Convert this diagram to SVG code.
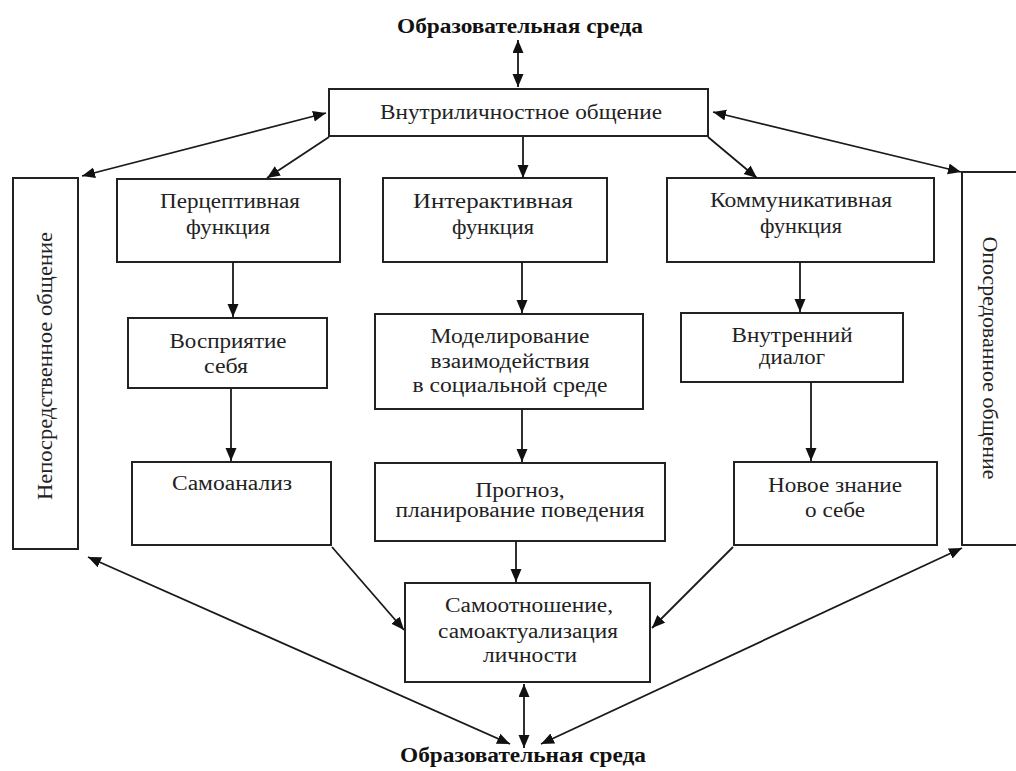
<svg xmlns="http://www.w3.org/2000/svg" width="1016" height="771" viewBox="0 0 1016 771">
<style>
.box{fill:#fff;stroke:#222;stroke-width:2}
.t{font-family:"Liberation Serif","Times New Roman",serif;font-size:20px;fill:#222;text-anchor:middle}
.b{font-weight:bold;fill:#111}
.c{stroke:#1a1a1a;stroke-width:1.8;fill:none;marker-end:url(#ah)}
.d{marker-start:url(#ah)}
</style>
<defs>
<marker id="ah" markerUnits="userSpaceOnUse" markerWidth="14" markerHeight="12" refX="13" refY="5.5" orient="auto-start-reverse" viewBox="0 0 14 12">
<path d="M0,0 L13,5.5 L0,11 z" fill="#111"/>
</marker>
</defs>
<rect width="1016" height="771" fill="#fff"/>

<g id="env-top"><text class="t b" x="520" y="33" textLength="246" lengthAdjust="spacingAndGlyphs">Образовательная среда</text></g>
<g id="env-bottom"><text class="t b" x="523" y="762" textLength="246" lengthAdjust="spacingAndGlyphs">Образовательная среда</text></g>

<g id="intra"><rect class="box" x="329" y="89" width="379" height="47"/><text class="t" x="521" y="119" textLength="282" lengthAdjust="spacingAndGlyphs">Внутриличностное общение</text></g>

<g id="direct"><rect class="box" x="13" y="178" width="65" height="371"/><text class="t" transform="translate(52,366) rotate(-90)" x="0" y="0" textLength="268" lengthAdjust="spacingAndGlyphs">Непосредственное общение</text></g>

<g id="mediated"><rect class="box" x="962" y="172" width="70" height="373"/><text class="t" transform="translate(983,358) rotate(90)" x="0" y="0" textLength="243" lengthAdjust="spacingAndGlyphs">Опосредованное общение</text></g>

<g id="perc"><rect class="box" x="117" y="179" width="223" height="83"/><text class="t" x="230" y="208" textLength="140" lengthAdjust="spacingAndGlyphs">Перцептивная</text><text class="t" x="228" y="234" textLength="84" lengthAdjust="spacingAndGlyphs">функция</text></g>

<g id="inter"><rect class="box" x="383" y="178" width="224" height="84"/><text class="t" x="493" y="208" textLength="160" lengthAdjust="spacingAndGlyphs">Интерактивная</text><text class="t" x="493" y="234" textLength="82" lengthAdjust="spacingAndGlyphs">функция</text></g>

<g id="comm"><rect class="box" x="667" y="178" width="267" height="84"/><text class="t" x="801" y="207" textLength="182" lengthAdjust="spacingAndGlyphs">Коммуникативная</text><text class="t" x="801" y="233" textLength="82" lengthAdjust="spacingAndGlyphs">функция</text></g>

<g id="selfperc"><rect class="box" x="128" y="318" width="199" height="70"/><text class="t" x="228" y="348" textLength="117" lengthAdjust="spacingAndGlyphs">Восприятие</text><text class="t" x="226" y="373" textLength="44" lengthAdjust="spacingAndGlyphs">себя</text></g>

<g id="model"><rect class="box" x="375" y="314" width="268" height="95"/><text class="t" x="510" y="343" textLength="159" lengthAdjust="spacingAndGlyphs">Моделирование</text><text class="t" x="510" y="368" textLength="159" lengthAdjust="spacingAndGlyphs">взаимодействия</text><text class="t" x="510" y="392" textLength="195" lengthAdjust="spacingAndGlyphs">в социальной среде</text></g>

<g id="dialog"><rect class="box" x="681" y="313" width="222" height="69"/><text class="t" x="792" y="342" textLength="121" lengthAdjust="spacingAndGlyphs">Внутренний</text><text class="t" x="792" y="364" textLength="66" lengthAdjust="spacingAndGlyphs">диалог</text></g>

<g id="selfanalysis"><rect class="box" x="132" y="462" width="199" height="83"/><text class="t" x="232" y="490" textLength="120" lengthAdjust="spacingAndGlyphs">Самоанализ</text></g>

<g id="forecast"><rect class="box" x="375" y="463" width="290" height="78"/><text class="t" x="520" y="497" textLength="89" lengthAdjust="spacingAndGlyphs">Прогноз,</text><text class="t" x="520" y="517" textLength="249" lengthAdjust="spacingAndGlyphs">планирование поведения</text></g>

<g id="newknow"><rect class="box" x="734" y="462" width="203" height="83"/><text class="t" x="835" y="492" textLength="134" lengthAdjust="spacingAndGlyphs">Новое знание</text><text class="t" x="835" y="517" textLength="60" lengthAdjust="spacingAndGlyphs">о себе</text></g>

<g id="selfrel"><rect class="box" x="405" y="583" width="245" height="99"/><text class="t" x="529" y="612" textLength="168" lengthAdjust="spacingAndGlyphs">Самоотношение,</text><text class="t" x="528" y="638" textLength="180" lengthAdjust="spacingAndGlyphs">самоактуализация</text><text class="t" x="530" y="662" textLength="94" lengthAdjust="spacingAndGlyphs">личности</text></g>

<g id="connectors">
<line class="c d" x1="518" y1="40" x2="518" y2="87"/>
<line class="c d" x1="82" y1="176" x2="326" y2="113"/>
<line class="c" x1="329" y1="137" x2="267" y2="178"/>
<line class="c" x1="523" y1="137" x2="523" y2="178"/>
<line class="c" x1="708" y1="137" x2="757" y2="178"/>
<line class="c d" x1="713" y1="112" x2="961" y2="172"/>
<line class="c" x1="233" y1="262" x2="233" y2="317"/>
<line class="c" x1="231" y1="389" x2="231" y2="461"/>
<line class="c" x1="522" y1="262" x2="522" y2="313"/>
<line class="c" x1="522" y1="409" x2="522" y2="462"/>
<line class="c" x1="516" y1="541" x2="516" y2="582"/>
<line class="c" x1="800" y1="262" x2="800" y2="312"/>
<line class="c" x1="811" y1="382" x2="811" y2="461"/>
<line class="c" x1="332" y1="547" x2="404" y2="630"/>
<line class="c" x1="733" y1="547" x2="652" y2="628"/>
<line class="c d" x1="88" y1="557" x2="510" y2="744"/>
<line class="c d" x1="524" y1="684" x2="524" y2="748"/>
<line class="c d" x1="962" y1="548" x2="541" y2="744"/>
</g>
</svg>
